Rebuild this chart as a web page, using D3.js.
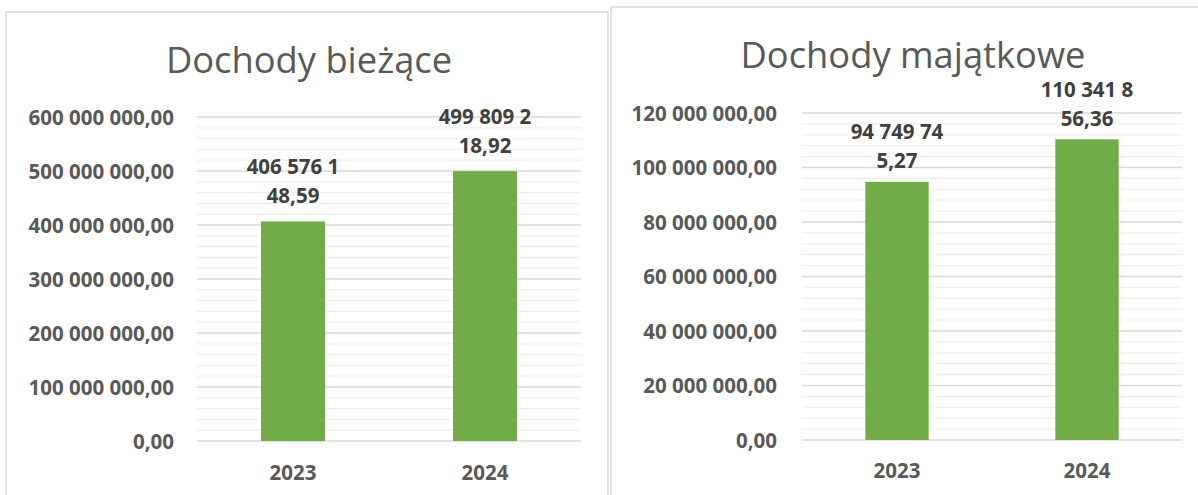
<!DOCTYPE html>
<html>
<head>
<meta charset="utf-8">
<script src="https://cdn.jsdelivr.net/npm/d3@7/dist/d3.min.js"></script>
<style>
body{margin:0;background:#fff;}
svg text{font-family:"Open Sans",sans-serif;}
</style>
</head>
<body>
<svg id="chart" width="1198" height="495"></svg>
<script>
// data
var years = ["2023", "2024"];
var dochodyBiezace = [406576148.59, 499809218.92];
var dochodyMajatkowe = [94749745.27, 110341856.36];
var titles = ["Dochody bieżące", "Dochody majątkowe"];
var yMaxValues = [600000000, 120000000];
var yMajorTicks = [
    [0, 100000000, 200000000, 300000000, 400000000, 500000000, 600000000],
    [0, 20000000, 40000000, 60000000, 80000000, 100000000, 120000000]
];
var yMinorStep = [20000000, 4000000];

// polish number format: "600 000 000,00"
var pl = d3.formatLocale({decimal: ",", thousands: "\u00a0", grouping: [3], currency: ["", " zł"]});
var fmt = pl.format(",.2f");

var svg = d3.select("#chart");
svg.append("rect").attr("width", 1198).attr("height", 495).attr("fill", "#fff");

function drawChart(cfg){
    var g = svg.append("g");

    // chart frame (bottom runs off the picture)
    g.append("rect")
	.attr("x", cfg.box.x).attr("y", cfg.box.y)
	.attr("width", cfg.box.w).attr("height", 520)
	.attr("fill", "#fff")
	.attr("stroke", "#d9d9d9").attr("stroke-width", 1.5);

    var x = d3.scaleBand().domain(years)
	.range([cfg.plot.x0, cfg.plot.x1])
	.paddingInner(2/3).paddingOuter(1/3);
    var y = d3.scaleLinear().domain([0, cfg.yMax])
	.range([cfg.plot.yBot, cfg.plot.yTop]);

    // minor gridlines
    var minor = d3.range(0, cfg.yMax + 1, cfg.minorStep)
	.filter(function(v){ return cfg.ticks.indexOf(v) < 0; });
    g.selectAll(".minor").data(minor).enter()
	.append("line").attr("class", "minor")
	.attr("x1", cfg.plot.x0).attr("x2", cfg.plot.x1)
	.attr("y1", function(d){ return y(d); })
	.attr("y2", function(d){ return y(d); })
	.attr("stroke", "#efefef").attr("stroke-width", 1.2);

    // major gridlines
    g.selectAll(".major").data(cfg.ticks).enter()
	.append("line").attr("class", "major")
	.attr("x1", cfg.plot.x0).attr("x2", cfg.plot.x1)
	.attr("y1", function(d){ return y(d); })
	.attr("y2", function(d){ return y(d); })
	.attr("stroke", "#d9d9d9").attr("stroke-width", 1.3);

    // y axis labels
    var yAxis = g.append("g")
	.attr("transform", "translate(" + cfg.plot.x0 + ",0)")
	.call(d3.axisLeft(y).tickValues(cfg.ticks).tickFormat(fmt)
	      .tickSize(0).tickPadding(cfg.labelPad));
    yAxis.select(".domain").remove();
    yAxis.selectAll("text")
	.attr("dy", "0.36em")
	.style("font-family", "'Open Sans',sans-serif")
	.style("font-size", "20.5px").style("font-weight", "bold")
	.attr("fill", "#595959");

    // bars
    g.selectAll(".bar").data(cfg.values).enter()
	.append("rect").attr("class", "bar")
	.attr("x", function(d, i){ return x(years[i]); })
	.attr("width", x.bandwidth())
	.attr("y", function(d){ return y(d); })
	.attr("height", function(d){ return y(0) - y(d); })
	.attr("fill", "#70ad47");

    // data labels, wrapped like in the original
    var lab = g.selectAll(".dlab").data(cfg.values).enter()
	.append("text").attr("class", "dlab")
	.attr("text-anchor", "middle")
	.attr("fill", "#404040")
	.style("font-size", "20.5px").style("font-weight", "bold");
    lab.each(function(d, i){
	var s = fmt(d).replace(/\u00a0/g, " ");
	var cx = x(years[i]) + x.bandwidth()/2;
	var base = y(d) - cfg.labelGap;
	d3.select(this).append("tspan").attr("x", cx).attr("y", base - 29).text(s.slice(0, 9));
	d3.select(this).append("tspan").attr("x", cx).attr("y", base).text(s.slice(9));
    });

    // category labels
    g.selectAll(".cat").data(years).enter()
	.append("text").attr("class", "cat")
	.attr("x", function(d){ return x(d) + x.bandwidth()/2; })
	.attr("y", cfg.catY)
	.attr("text-anchor", "middle")
	.attr("fill", "#595959")
	.style("font-size", "20.5px").style("font-weight", "bold")
	.text(function(d){ return d; });

    // title
    g.append("text")
	.attr("x", cfg.titleX).attr("y", cfg.titleY)
	.attr("text-anchor", "middle")
	.attr("fill", "#595959")
	.style("font-size", "36.3px").style("font-weight", 400)
	.text(cfg.title);
}

drawChart({
    title: titles[0], values: dochodyBiezace, yMax: yMaxValues[0],
    ticks: yMajorTicks[0], minorStep: yMinorStep[0],
    box: {x: 6, y: 12, w: 602},
    plot: {x0: 197, x1: 581, yTop: 117, yBot: 441},
    labelPad: 23, labelGap: 18, catY: 480,
    titleX: 309, titleY: 73
});

drawChart({
    title: titles[1], values: dochodyMajatkowe, yMax: yMaxValues[1],
    ticks: yMajorTicks[1], minorStep: yMinorStep[1],
    box: {x: 611, y: 7, w: 600},
    plot: {x0: 802, x1: 1182, yTop: 113, yBot: 440},
    labelPad: 25, labelGap: 13.5, catY: 478,
    titleX: 913, titleY: 68
});
</script>
</body>
</html>
